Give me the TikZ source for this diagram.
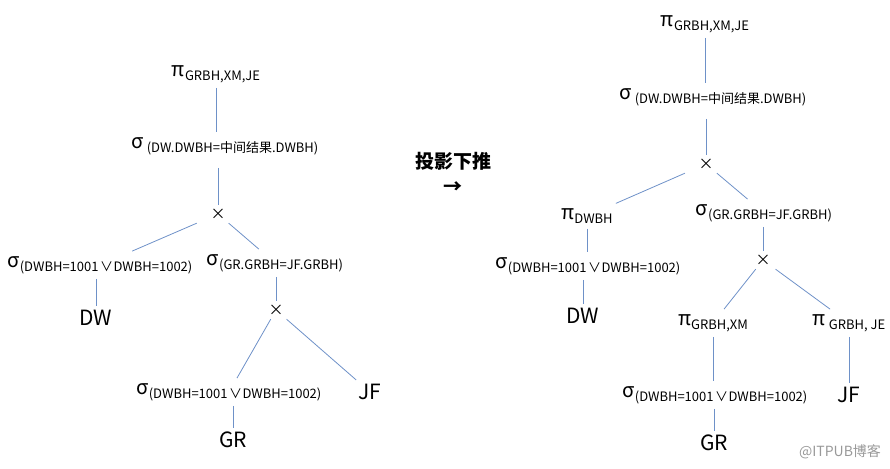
\documentclass[tikz,border=0pt]{standalone}
\usepackage{fontspec}
\setmainfont{Noto Sans CJK SC}
\definecolor{edgeblue}{RGB}{110,145,200}
\newcommand{\subsz}{\fontsize{13}{15}\selectfont}
\newcommand{\relop}[2]{#1\raisebox{-4pt}{\subsz #2}}
\newcommand{\orsign}{\kern1.5pt∨\kern0.5pt}

\begin{document}
\begin{tikzpicture}[x=1pt, y=-1pt]
    % Define styles
    \tikzset{
        op/.style={
            font=\fontsize{20}{24}\selectfont,
            inner sep=5pt
        },
        leaf/.style={
            font=\fontsize{21}{24}\selectfont,
            inner sep=4pt
        },
        cross/.style={
            font=\fontsize{15}{18}\selectfont,
            inner sep=0pt,
            minimum width=42pt,
            minimum height=18pt
        },
        edge/.style={
            draw=edgeblue,
            line width=0.8pt
        },
        note/.style={
            font=\fontsize{19}{25}\selectfont\bfseries,
            align=center
        }
    }
    \useasboundingbox (0,0) rectangle (890,468);

    % Left tree: before
    \node[op] (lp) at (216,74) {\relop{π}{GRBH,XM,JE}};
    \node[op] (ls) at (225,146) {\relop{σ}{\ (DW.DWBH=中间结果.DWBH)}};
    \node[cross] (lx) at (218,214) {×};
    \node[op] (lsa) at (100,265) {\relop{σ}{(DWBH=1001\orsign DWBH=1002)}};
    \node[op] (lsb) at (275,263) {\relop{σ}{(GR.GRBH=JF.GRBH)}};
    \node[leaf] (ldw) at (96,318) {DW};
    \node[cross] (lx2) at (276,310) {×};
    \node[op] (lsc) at (229,392) {\relop{σ}{(DWBH=1001\orsign DWBH=1002)}};
    \node[leaf] (ljf) at (370,392) {JF};
    \node[leaf] (lgr) at (233,440) {GR};

    \draw[edge] (lp.south) -- (lp.south |- ls.north);
    \draw[edge, shorten <=8pt] (lx |- ls.south) -- (lx);
    \draw[edge] (lx) -- (lsa);
    \draw[edge] (lx) -- (lsb);
    \draw[edge] (ldw |- lsa.south) -- (ldw);
    \draw[edge] (lx2 |- lsb.south) -- (lx2);
    \draw[edge] (lx2) -- (lsc);
    \draw[edge] (lx2) -- (ljf);
    \draw[edge] (lgr |- lsc.south) -- (lgr);

    % Rewrite step
    \node[note] (push) at (453,173) {投影下推\\→};

    % Right tree: after
    \node[op] (rp) at (705,24) {\relop{π}{GRBH,XM,JE}};
    \node[op] (rs) at (713,97) {\relop{σ}{\ (DW.DWBH=中间结果.DWBH)}};
    \node[cross] (rx) at (706,164) {×};
    \node[op] (rpd) at (587,216) {\relop{π}{DWBH}};
    \node[op] (rsb) at (764,213) {\relop{σ}{(GR.GRBH=JF.GRBH)}};
    \node[op] (rsa) at (588,266) {\relop{σ}{(DWBH=1001\orsign DWBH=1002)}};
    \node[leaf] (rdw) at (583,316) {DW};
    \node[cross] (rx2) at (763,260) {×};
    \node[op] (rpa) at (713,323) {\relop{π}{GRBH,XM}};
    \node[op] (rpb) at (849,323) {\relop{π}{\ GRBH, JE}};
    \node[op] (rsc) at (715,395) {\relop{σ}{(DWBH=1001\orsign DWBH=1002)}};
    \node[leaf] (rjf) at (849,395) {JF};
    \node[leaf] (rgr) at (714,443) {GR};

    \draw[edge] (rp.south) -- (rp.south |- rs.north);
    \draw[edge, shorten <=8pt] (rx |- rs.south) -- (rx);
    \draw[edge] (rx) -- (rpd);
    \draw[edge] (rx) -- (rsb);
    \draw[edge] (rpd.south) -- (rpd.south |- rsa.north);
    \draw[edge] (rdw |- rsa.south) -- (rdw);
    \draw[edge] (rx2 |- rsb.south) -- (rx2);
    \draw[edge] (rx2) -- (rpa);
    \draw[edge] (rx2) -- (rpb);
    \draw[edge] (rpa.south) -- (rpa.south |- rsc.north);
    \draw[edge] (rpb.south) -- (rpb.south |- rjf.north);
    \draw[edge] (rgr |- rsc.south) -- (rgr);

    % Watermark
    \node[font=\fontsize{14}{16}\selectfont, text=black!40] (mark) at (840,452) {@ITPUB博客};
\end{tikzpicture}
\end{document}
